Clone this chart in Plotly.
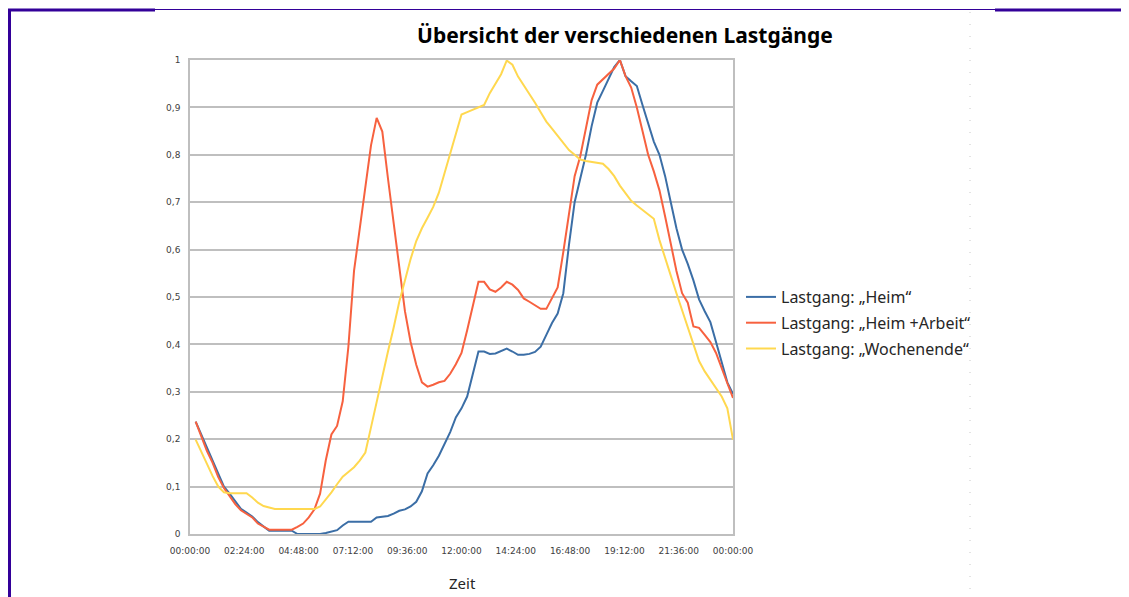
import plotly.graph_objects as go
import pandas as pd

# 15-minute steps, 00:15 ... 24:00
zeit = pd.date_range("2000-01-01 00:15", periods=96, freq="15min")

heim = [0.237, 0.21, 0.18, 0.155, 0.125, 0.10, 0.085, 0.068, 0.053, 0.045, 0.037, 0.025,
        0.015, 0.007, 0.007, 0.007, 0.007, 0.007, 0.0, 0.0, 0.0, 0.0, 0.0, 0.002,
        0.005, 0.008, 0.018, 0.026, 0.026, 0.026, 0.026, 0.026, 0.035, 0.037, 0.038, 0.043,
        0.049, 0.052, 0.058, 0.068, 0.09, 0.128, 0.145, 0.165, 0.19, 0.215, 0.246, 0.265,
        0.29, 0.335, 0.385, 0.385, 0.38, 0.381, 0.386, 0.391, 0.385, 0.378, 0.378, 0.38,
        0.384, 0.395, 0.42, 0.445, 0.465, 0.508, 0.61, 0.70, 0.75, 0.80, 0.86, 0.91,
        0.935, 0.96, 0.985, 1.0, 0.966, 0.955, 0.945, 0.905, 0.865, 0.828, 0.80, 0.755,
        0.70, 0.645, 0.60, 0.57, 0.535, 0.495, 0.47, 0.447, 0.405, 0.365, 0.32, 0.295]

heim_arbeit = [0.237, 0.205, 0.175, 0.15, 0.12, 0.097, 0.08, 0.063, 0.05, 0.043, 0.035, 0.022,
               0.015, 0.009, 0.009, 0.009, 0.009, 0.009, 0.015, 0.022, 0.035, 0.052, 0.085, 0.155,
               0.21, 0.228, 0.28, 0.395, 0.555, 0.64, 0.73, 0.82, 0.878, 0.849, 0.75, 0.655,
               0.555, 0.47, 0.405, 0.357, 0.32, 0.311, 0.315, 0.32, 0.323, 0.338, 0.358, 0.382,
               0.43, 0.484, 0.532, 0.532, 0.516, 0.511, 0.52, 0.532, 0.526, 0.515, 0.497, 0.49,
               0.483, 0.475, 0.475, 0.497, 0.52, 0.595, 0.68, 0.755, 0.797, 0.86, 0.915, 0.948,
               0.959, 0.97, 0.982, 1.0, 0.966, 0.942, 0.90, 0.85, 0.80, 0.765, 0.725, 0.67,
               0.615, 0.555, 0.508, 0.488, 0.438, 0.435, 0.42, 0.405, 0.382, 0.352, 0.318, 0.287]

wochenende = [0.199, 0.175, 0.148, 0.122, 0.10, 0.088, 0.086, 0.086, 0.086, 0.086, 0.077, 0.066,
              0.059, 0.056, 0.053, 0.053, 0.053, 0.053, 0.053, 0.053, 0.053, 0.053, 0.058, 0.072,
              0.088, 0.105, 0.121, 0.131, 0.141, 0.155, 0.172, 0.225, 0.28, 0.335, 0.385, 0.435,
              0.49, 0.535, 0.58, 0.618, 0.645, 0.667, 0.69, 0.72, 0.762, 0.805, 0.845, 0.885,
              0.89, 0.895, 0.899, 0.905, 0.93, 0.95, 0.97, 0.999, 0.99, 0.965, 0.947, 0.93,
              0.91, 0.89, 0.87, 0.855, 0.84, 0.825, 0.81, 0.80, 0.79, 0.787, 0.785, 0.783,
              0.781, 0.77, 0.755, 0.735, 0.718, 0.703, 0.693, 0.684, 0.675, 0.665, 0.62, 0.58,
              0.545, 0.508, 0.472, 0.435, 0.398, 0.365, 0.343, 0.325, 0.307, 0.29, 0.265, 0.199]

namen = ["Lastgang: „Heim“", "Lastgang: „Heim +Arbeit“", "Lastgang: „Wochenende“"]
farben = ["#3b6ea6", "#f7613f", "#ffd84f"]

# page has an 8px body margin, so the figure is 8px smaller than the window
W, H = 1121, 589
L, R, T, B = 182, 396, 52, 63


def px(x):
    # screen x -> paper
    return (x - 8 - L) / (W - L - R)


def py(y):
    # screen y -> paper
    return (H - B - (y - 8)) / (H - T - B)


fig = go.Figure()
for i, (name, werte) in enumerate(zip(namen, [heim, heim_arbeit, wochenende])):
    fig.add_trace(go.Scatter(
        x=zeit, y=werte, mode="lines", name=name,
        legendgroup=str(i),
        line=dict(color=farben[i], width=2),
    ))

grey = "#bfbfbf"
fig.update_layout(
    width=W, height=H,
    separators=",.",
    paper_bgcolor="white", plot_bgcolor="white",
    margin=dict(l=L, r=R, t=T, b=B, autoexpand=False),
    font=dict(family="Noto Sans", color="#404040"),
    xaxis=dict(
        type="date",
        range=["2000-01-01 00:00", "2000-01-02 00:00"],
        dtick=8640000, tick0="2000-01-01 00:00",
        tickformat="%H:%M:%S",
        tickfont=dict(family="DejaVu Sans", size=9, color="#404040"),
        showgrid=False, showline=True, linecolor=grey, linewidth=1.5, mirror=True,
        ticks="", zeroline=False, ticklabelstandoff=7, automargin=False,
    ),
    yaxis=dict(
        range=[0, 1], dtick=0.1,
        tickfont=dict(family="DejaVu Sans", size=9, color="#404040"),
        showgrid=True, gridcolor=grey, gridwidth=1.5,
        showline=True, linecolor=grey, linewidth=1.5, mirror=True,
        zeroline=False, ticks="", ticklabelstandoff=6, automargin=False,
    ),
    legend=dict(
        x=px(741), y=py(280), xanchor="left", yanchor="top",
        font=dict(size=16, color="#262626"),
        tracegroupgap=2, bgcolor="rgba(0,0,0,0)",
        itemwidth=30,
    ),
    annotations=[
        dict(text="<b>Übersicht der verschiedenen Lastgänge</b>",
             xref="paper", yref="paper", x=px(625), y=py(35),
             xanchor="center", yanchor="middle", showarrow=False,
             font=dict(size=21, color="black", family="Noto Sans")),
        dict(text="Zeit", xref="paper", yref="paper", x=px(462), y=py(583),
             xanchor="center", yanchor="middle", showarrow=False,
             font=dict(size=15, color="#262626", family="Noto Sans")),
    ],
    shapes=[
        # page frame lines around the chart
        dict(type="line", xref="paper", yref="paper", x0=px(8), x1=px(155), y0=py(10), y1=py(10),
             line=dict(color="#330099", width=3)),
        dict(type="line", xref="paper", yref="paper", x0=px(155), x1=px(995), y0=py(9.5), y1=py(9.5),
             line=dict(color="#330099", width=1)),
        dict(type="line", xref="paper", yref="paper", x0=px(995), x1=px(1130), y0=py(10), y1=py(10),
             line=dict(color="#330099", width=3)),
        dict(type="line", xref="paper", yref="paper", x0=px(9.5), x1=px(9.5), y0=py(9), y1=py(600),
             line=dict(color="#330099", width=3)),
        dict(type="line", xref="paper", yref="paper", x0=px(970), x1=px(970), y0=py(12), y1=py(600),
             line=dict(color="#c8c8c8", width=1, dash="1px,11px")),
    ],
)

fig.write_html("out.html")
